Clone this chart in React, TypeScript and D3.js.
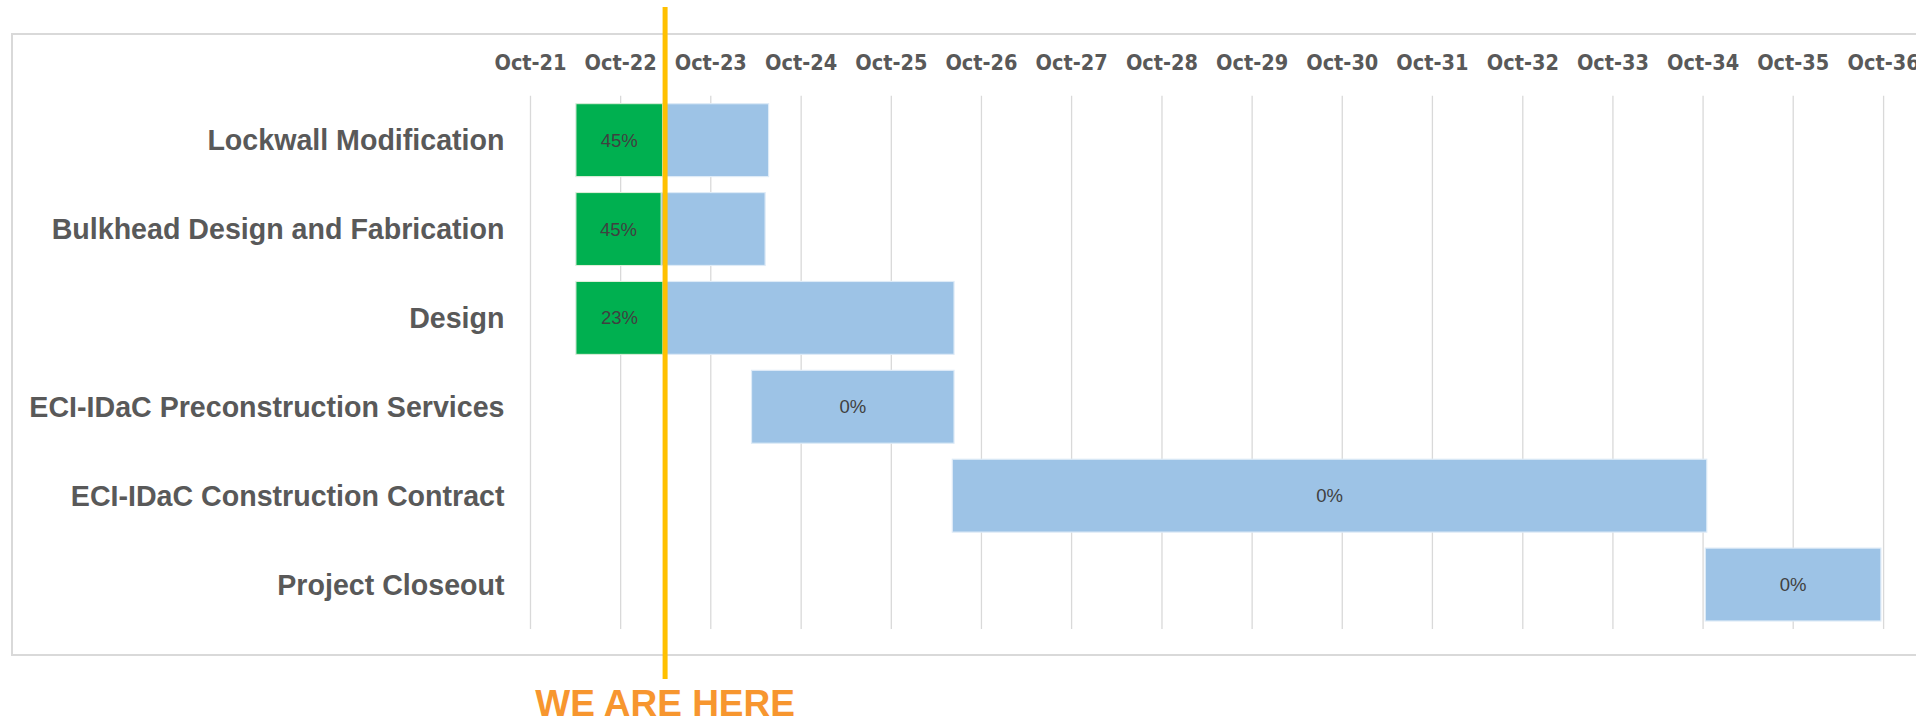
import React from "react";
import * as d3 from "d3";

const tasks = [
  "Lockwall Modification",
  "Bulkhead Design and Fabrication",
  "Design",
  "ECI-IDaC Preconstruction Services",
  "ECI-IDaC Construction Contract",
  "Project Closeout",
];
const startDates = ["2022-04-03", "2022-04-03", "2022-04-03", "2024-03-14", "2026-06-05", "2034-10-10"];
const endDates = ["2024-05-22", "2024-05-08", "2026-06-12", "2026-06-12", "2034-10-16", "2036-09-20"];
const percentComplete = [0.45, 0.45, 0.23, 0, 0, 0];
const tickYears = [2021, 2022, 2023, 2024, 2025, 2026, 2027, 2028, 2029, 2030, 2031, 2032, 2033, 2034, 2035, 2036];
const todayDate = "2023-03-30";
const todayLabel = "WE ARE HERE";

const W = 1916;
const H = 720;
const plot = { left: 530.5, right: 1883.6, top: 95.7, bottom: 629 };

const parse = d3.timeParse("%Y-%m-%d");
const fmt = d3.timeFormat("%b-%y");

export default function App() {
  const tickDates = tickYears.map((y) => new Date(y, 9, 1));
  const x = d3
    .scaleTime()
    .domain([tickDates[0], tickDates[tickDates.length - 1]])
    .range([plot.left, plot.right]);
  const y = d3
    .scaleBand<string>()
    .domain(tasks)
    .range([plot.top, plot.bottom])
    .paddingInner(0.18)
    .paddingOuter(0.09);

  const rows = tasks.map((t, i) => {
    const s = parse(startDates[i]) as Date;
    const e = parse(endDates[i]) as Date;
    const x0 = x(s);
    const x1 = x(e);
    const xd = x0 + (x1 - x0) * percentComplete[i];
    return { t, i, x0, x1, xd, p: percentComplete[i] };
  });
  const tx = x(parse(todayDate) as Date);
  const labelFont = "'Liberation Sans', Arial, sans-serif";
  const tickFont = "'Liberation Sans Narrow', 'DejaVu Sans Condensed', 'Liberation Sans', sans-serif";

  return (
    <svg width={W} height={H} style={{ position: "absolute", left: 0, top: 0, background: "#fff" }}>
      <rect x={12} y={34} width={W + 20} height={621} fill="#fff" stroke="#D9D9D9" strokeWidth={2} />
      {tickDates.map((d, i) => (
        <g key={i}>
          <line x1={x(d)} x2={x(d)} y1={plot.top} y2={plot.bottom} stroke="#D9D9D9" strokeWidth={1.3} />
          <text
            x={x(d)}
            y={69.5}
            textAnchor="middle"
            fontFamily={tickFont}
            fontWeight="bold"
            fontSize={21.5}
            fill="#595959"
          >
            {fmt(d)}
          </text>
        </g>
      ))}
      {rows.map((r) => {
        const yy = y(r.t) as number;
        const bh = y.bandwidth();
        return (
          <g key={r.t}>
            <rect x={r.x0} y={yy} width={r.x1 - r.x0} height={bh} fill="#9DC3E6" stroke="#DEEBF7" strokeWidth={1.2} />
            {r.p > 0 && (
              <rect x={r.x0} y={yy} width={r.xd - r.x0} height={bh} fill="#00B050" stroke="#E2F0D9" strokeWidth={1} />
            )}
            <text
              x={r.p > 0 ? (r.x0 + r.xd) / 2 : (r.x0 + r.x1) / 2}
              y={yy + bh / 2}
              dy="0.35em"
              textAnchor="middle"
              fontFamily={labelFont}
              fontSize={18.5}
              fill="#404040"
            >
              {d3.format(".0%")(r.p)}
            </text>
            <text
              x={504.5}
              y={yy + bh / 2}
              dy="0.35em"
              textAnchor="end"
              fontFamily={labelFont}
              fontWeight="bold"
              fontSize={28.6}
              fill="#595959"
            >
              {r.t}
            </text>
          </g>
        );
      })}
      <line x1={tx} x2={tx} y1={7} y2={679} stroke="#FFC000" strokeWidth={5} />
      <text
        x={tx}
        y={716}
        textAnchor="middle"
        fontFamily={labelFont}
        fontWeight="bold"
        fontSize={37}
        fill="#F7962F"
      >
        {todayLabel}
      </text>
    </svg>
  );
}
